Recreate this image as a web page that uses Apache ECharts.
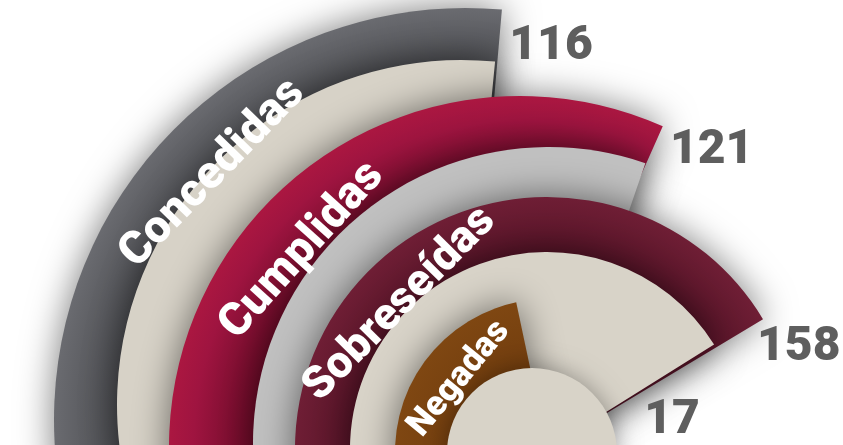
<!DOCTYPE html>
<html lang="es">
<head>
<meta charset="utf-8">
<title>Concedidas, Cumplidas, Sobreseídas, Negadas</title>
<script src="https://cdn.jsdelivr.net/npm/echarts@6.0.0/dist/echarts.min.js"></script>
<style>
html,body{margin:0;padding:0;background:#ffffff;}
#chart{width:843px;height:445px;}
</style>
</head>
<body>
<div id="chart"></div>
<script>
// ---------------- data ----------------
const categories = ['Concedidas', 'Cumplidas', 'Sobreseídas', 'Negadas'];
const values = [116, 121, 158, 17];

// ---------------- layout / style only ----------------
// Every sector starts a little below 9 o'clock (START) and runs clockwise.
// *_END = angle (deg, counter-clockwise from 3 o'clock) where the sweep stops.
const START = 200;
const BAND_CENTER = [[466, 420], [520, 447], [547, 449], [548, 452]];
const BAND_RADIUS = [412, 351, 252, 153];
const BAND_END    = [85, 66, 31, 102];
const BAND_STOPS  = [
  [[0, '#4a4b4f'], [0.84, '#4b4c50'], [1, '#6a6b70']],
  [[0, '#6c0b28'], [0.76, '#6e0b28'], [0.82, '#7e0e30'], [0.93, '#9f1440'], [1, '#ab1741']],
  [[0, '#541326'], [0.78, '#581428'], [1, '#6f1e35']],
  [[0, '#6f3b0d'], [0.6, '#733e0e'], [1, '#7f4712']]
];
const FILL_CENTER = [[462, 405], [549, 443], [547, 449]];
const FILL_RADIUS = [345, 296, 197];
const FILL_END    = [84.5, 71, 32];
const FILL_COLOR  = ['#d7d2c7', '#c0c0c0', '#d8d3c8'];
const HUB = { center: [532, 453], radius: 85, color: '#d8d3c8' };

const NAME_RADIUS = [[325, 381], [265, 321], [178, 234], [87, 143]];
const NAME_ANGLE  = [135.8, 138, 135.5, 140.5];
const NAME_SIZE   = [46, 46, 45, 35];
const VALUE_RADIUS = [[352, 412], [305, 351], [197, 252], [85, 153]];
const VALUE_OFFSET = [[5, 7], [12, 2], [15, 10], [116, 86]];

const FONT = 'Roboto, "Liberation Sans", "DejaVu Sans", sans-serif';
const SHADOW = { shadowBlur: 36, shadowColor: 'rgba(0,0,0,0.52)' };
const hidden = { axisLine: { show: false }, axisTick: { show: false }, axisLabel: { show: false }, splitLine: { show: false } };

const polar = [], angleAxis = [], radiusAxis = [], series = [];
let z = 1;

function system(center, r0, r1, sweep, value, cat) {
  const i = polar.length;
  polar.push({ center: center, radius: [r0, r1] });
  angleAxis.push(Object.assign({ polarIndex: i, type: 'value', min: 0, max: value * 360 / sweep, startAngle: START, clockwise: true }, hidden));
  radiusAxis.push(Object.assign({ polarIndex: i, type: 'category', data: [cat] }, hidden));
  return i;
}
function bar(idx, value, extra) {
  series.push(Object.assign({
    type: 'bar', coordinateSystem: 'polar', polarIndex: idx, data: [value],
    barWidth: '100%', barCategoryGap: '0%', silent: true, z: z++, animation: false
  }, extra));
}

categories.forEach(function (cat, k) {
  const v = values[k];
  const c = BAND_CENTER[k], R = BAND_RADIUS[k];
  // coloured band (full sector; the lighter sector is laid over its inner part)
  const b = system(c, 0, R, START - BAND_END[k], v, cat);
  bar(b, v, {
    itemStyle: Object.assign({
      color: { type: 'radial', x: c[0], y: c[1], r: R, global: true,
               colorStops: BAND_STOPS[k].map(function (s) { return { offset: s[0], color: s[1] }; }) }
    }, SHADOW)
  });
  // lighter inner sector
  if (k < FILL_CENTER.length) {
    const f = system(FILL_CENTER[k], 0, FILL_RADIUS[k], START - FILL_END[k], v, cat);
    bar(f, v, { itemStyle: Object.assign({ color: FILL_COLOR[k] }, SHADOW) });
  }
});

// centre disc
series.push({
  type: 'pie', center: HUB.center, radius: [0, HUB.radius], silent: true, z: z++, animation: false,
  label: { show: false }, labelLine: { show: false },
  data: [{ name: categories[3], value: values[3] }],
  itemStyle: { color: HUB.color, shadowBlur: 24, shadowColor: 'rgba(0,0,0,0.35)' }
});

// labels (transparent carriers)
categories.forEach(function (cat, k) {
  const v = values[k];
  const n = system(BAND_CENTER[k], NAME_RADIUS[k][0], NAME_RADIUS[k][1], 2 * (START - NAME_ANGLE[k]), v, cat);
  bar(n, v, {
    z: 100 + k,
    itemStyle: { color: 'rgba(0,0,0,0)' },
    label: { show: true, position: 'middle', rotate: 'tangential', formatter: cat,
             color: '#ffffff', fontFamily: FONT, fontWeight: 900, fontSize: NAME_SIZE[k] }
  });
  const t = system(BAND_CENTER[k], VALUE_RADIUS[k][0], VALUE_RADIUS[k][1], START - BAND_END[k], v, cat);
  bar(t, v, {
    z: 110 + k,
    itemStyle: { color: 'rgba(0,0,0,0)' },
    label: { show: true, position: 'end', rotate: 0, align: 'left', verticalAlign: 'middle',
             offset: VALUE_OFFSET[k], formatter: String(v),
             color: '#5e5e5e', fontFamily: FONT, fontWeight: 900, fontSize: 48 }
  });
});

const chart = echarts.init(document.getElementById('chart'), null, { renderer: 'canvas' });
chart.setOption({
  animation: false,
  backgroundColor: '#ffffff',
  polar: polar, angleAxis: angleAxis, radiusAxis: radiusAxis,
  series: series
});
</script>
</body>
</html>
